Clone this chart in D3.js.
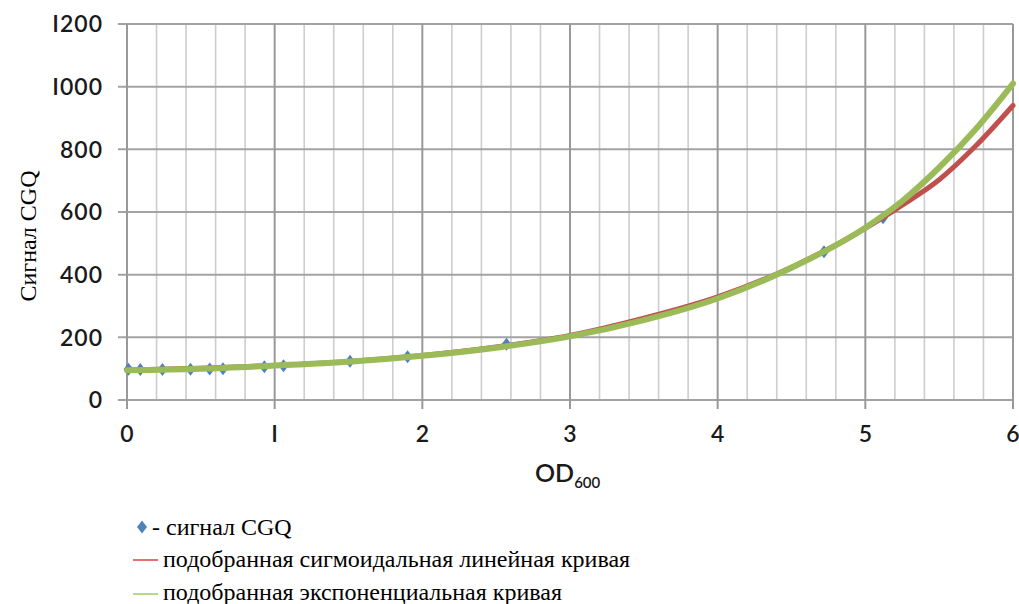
<!DOCTYPE html>
<html>
<head>
<meta charset="utf-8">
<script src="https://cdn.jsdelivr.net/npm/d3@7"></script>
<style>
  body { margin: 0; background: #fff; }
</style>
</head>
<body>
<div id="chart"></div>
<script>
// measured CGQ signal
let odValues = [0.01, 0.09, 0.24, 0.43, 0.56, 0.65, 0.93, 1.06, 1.51, 1.9, 2.57, 4.72, 5.12];
let signalValues = [98, 97, 97, 98, 99, 100, 106, 109, 124, 138, 178, 473, 582];

// fitted curves
let curveX = [0, 0.5, 1, 1.5, 2, 2.5, 3, 3.5, 4, 4.5, 5, 5.25, 5.5, 5.75, 6];
let sigmoidY = [96, 101, 110, 123, 142, 169, 206, 261, 329, 424, 548, 622, 703, 812, 940];
let expY = [95, 100, 110, 122, 141, 167, 203, 255, 324, 422, 550, 635, 742, 866, 1010];

let xTicks = [0, 1, 2, 3, 4, 5, 6];
let xTickLabels = ["0", "I", "2", "3", "4", "5", "6"];
let yTicks = [0, 200, 400, 600, 800, 1000, 1200];
let yTickLabels = ["0", "200", "400", "600", "800", "I000", "I200"];

let width = 1019,
    height = 604;

let sansFont = "Lato";
let serifFont = "Times New Roman";

let svg = d3.select("#chart").append("svg")
    .attr("width", width)
    .attr("height", height);

let x = d3.scaleLinear().domain([0, 6]).range([127, 1013]);
let y = d3.scaleLinear().domain([0, 1200]).range([400, 24]);

// minor vertical grid
svg.append("g")
    .selectAll("line")
    .data(d3.range(0, 30).filter(i => i % 5 !== 0).map(i => i / 5))
    .enter().append("line")
    .attr("x1", d => x(d)).attr("x2", d => x(d))
    .attr("y1", y(1200)).attr("y2", y(0))
    .attr("stroke", "#cdcdcd")
    .attr("stroke-width", 1.6);

// horizontal grid
svg.append("g")
    .selectAll("line")
    .data(yTicks)
    .enter().append("line")
    .attr("x1", 118).attr("x2", x(6))
    .attr("y1", d => y(d)).attr("y2", d => y(d))
    .attr("stroke", "#a3a3a3")
    .attr("stroke-width", 2);

// major vertical grid
svg.append("g")
    .selectAll("line")
    .data(xTicks)
    .enter().append("line")
    .attr("x1", d => x(d)).attr("x2", d => x(d))
    .attr("y1", y(1200)).attr("y2", y(0) + 9)
    .attr("stroke", "#999")
    .attr("stroke-width", 2);

// tick labels
svg.append("g")
    .selectAll("text")
    .data(yTicks)
    .enter().append("text")
    .attr("x", 103)
    .attr("y", d => y(d))
    .attr("dy", "0.36em")
    .attr("text-anchor", "end")
    .attr("font-family", sansFont)
    .attr("font-size", 23)
    .attr("font-weight", 600)
    .attr("letter-spacing", 1)
    .attr("fill", "#1a1a1a")
    .text((d, i) => yTickLabels[i]);

svg.append("g")
    .selectAll("text")
    .data(xTicks)
    .enter().append("text")
    .attr("x", d => x(d))
    .attr("y", 442)
    .attr("text-anchor", "middle")
    .attr("font-family", sansFont)
    .attr("font-size", 23)
    .attr("font-weight", 600)
    .attr("fill", "#1a1a1a")
    .text((d, i) => xTickLabels[i]);

// axis titles
let xTitle = svg.append("text")
    .attr("x", 535)
    .attr("y", 482)
    .attr("font-family", sansFont)
    .attr("font-size", 25)
    .attr("font-weight", 600)
    .attr("fill", "#1a1a1a");
xTitle.append("tspan").text("OD");
xTitle.append("tspan").attr("dy", 6).attr("font-size", 15).text("600");

svg.append("text")
    .attr("transform", "translate(36,236)rotate(-90)")
    .attr("text-anchor", "middle")
    .attr("font-family", serifFont)
    .attr("font-size", 24)
    .attr("fill", "#000")
    .text("Сигнал CGQ");

// diamonds
let diamondPath = "M0,-6.5L5,0L0,6.5L-5,0Z";
svg.append("g")
    .selectAll("path")
    .data(odValues)
    .enter().append("path")
    .attr("d", diamondPath)
    .attr("transform", (d, i) => "translate(" + x(d) + "," + y(signalValues[i]) + ")")
    .attr("fill", "#4f81bd");

// curves
let line = d3.line()
    .x((d, i) => x(curveX[i]))
    .y(d => y(d))
    .curve(d3.curveMonotoneX);

svg.append("path")
    .datum(sigmoidY)
    .attr("d", line)
    .attr("fill", "none")
    .attr("stroke", "#c0504d")
    .attr("stroke-width", 5)
    .attr("stroke-linecap", "round");

svg.append("path")
    .datum(expY)
    .attr("d", line)
    .attr("fill", "none")
    .attr("stroke", "#9bbb59")
    .attr("stroke-width", 6)
    .attr("stroke-linecap", "round");

// legend
let legendRows = [
    {y: 535, text: "- сигнал CGQ", x: 152},
    {y: 567, text: "подобранная сигмоидальная линейная кривая", x: 163},
    {y: 600, text: "подобранная экспоненциальная кривая", x: 163}
];

svg.append("path")
    .attr("d", diamondPath)
    .attr("transform", "translate(142,527)")
    .attr("fill", "#4f81bd");

svg.append("line")
    .attr("x1", 133).attr("x2", 158)
    .attr("y1", 560).attr("y2", 560)
    .attr("stroke", "#e0403a").attr("stroke-width", 1.5);

svg.append("line")
    .attr("x1", 133).attr("x2", 158)
    .attr("y1", 594).attr("y2", 594)
    .attr("stroke", "#9ccc5c").attr("stroke-width", 1.5);

svg.selectAll(".legend-text")
    .data(legendRows)
    .enter().append("text")
    .attr("class", "legend-text")
    .attr("x", d => d.x)
    .attr("y", d => d.y)
    .attr("font-family", serifFont)
    .attr("font-size", 24)
    .attr("fill", "#000")
    .text(d => d.text);
</script>
</body>
</html>
